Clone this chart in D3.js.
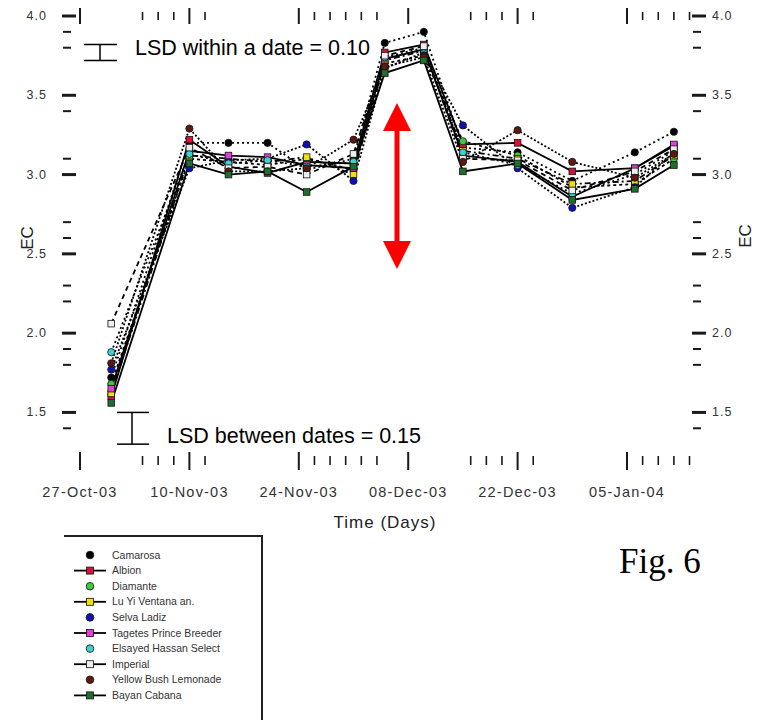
<!DOCTYPE html>
<html><head><meta charset="utf-8">
<script src="https://cdn.jsdelivr.net/npm/d3@7"></script>
<style>body{margin:0;background:#fff}svg{display:block}</style>
</head><body>
<svg id="c" width="765" height="720"></svg>
<script>
const sampleDates = ["2003-10-31","2003-11-10","2003-11-15","2003-11-20","2003-11-25","2003-12-01","2003-12-05","2003-12-10","2003-12-15","2003-12-22","2003-12-29","2004-01-06","2004-01-11"];
const seriesNames = ["Camarosa","Albion","Diamante","Lu Yi Ventana an.","Selva Ladiz","Tagetes Prince Breeder","Elsayed Hassan Select","Imperial","Yellow Bush Lemonade","Bayan Cabana"];
const seriesColors = ["#000000","#d8103a","#40c840","#f0e010","#1010b8","#e040d8","#40d0d0","#eeeeee","#5a1a12","#1f6e2e"];
const s1 = [1.72,3.20,3.20,3.20,3.03,3.10,3.83,3.90,3.17,3.14,2.96,3.14,3.27];
const s2 = [1.60,3.22,3.05,3.01,3.08,3.07,3.77,3.82,3.19,3.20,3.02,3.04,3.18];
const s3 = [1.68,3.10,3.08,3.06,3.10,3.03,3.70,3.75,3.21,3.12,2.92,2.94,3.10];
const s4 = [1.62,3.12,3.10,3.08,3.11,3.00,3.72,3.78,3.15,3.10,2.94,2.96,3.12];
const s5 = [1.77,3.04,3.09,3.10,3.19,2.96,3.67,3.77,3.31,3.04,2.79,2.92,3.14];
const s6 = [1.65,3.15,3.12,3.11,3.06,3.04,3.73,3.79,3.12,3.08,2.86,3.04,3.19];
const s7 = [1.88,3.13,3.07,3.09,3.05,3.08,3.74,3.80,3.14,3.06,2.88,3.00,3.15];
const s8 = [2.06,3.17,3.04,3.05,3.00,3.13,3.75,3.81,3.10,3.09,2.90,3.02,3.16];
const s9 = [1.81,3.29,3.02,3.02,3.04,3.22,3.68,3.74,3.08,3.28,3.08,2.98,3.13];
const s10 = [1.56,3.07,3.00,3.02,2.89,3.05,3.64,3.72,3.02,3.07,2.84,2.91,3.06];
const seriesValues = [s1,s2,s3,s4,s5,s6,s7,s8,s9,s10];
const majorDates = ["2003-10-27","2003-11-10","2003-11-24","2003-12-08","2003-12-22","2004-01-05"];
const majorLabels = ["27-Oct-03","10-Nov-03","24-Nov-03","08-Dec-03","22-Dec-03","05-Jan-04"];
const minorDates = ["2003-11-04","2003-11-06","2003-11-08","2003-11-12","2003-11-26","2003-11-28","2003-11-30","2003-12-02","2003-12-04","2003-12-16","2003-12-18","2003-12-20","2003-12-24","2004-01-07","2004-01-09","2004-01-11","2004-01-13"];
const yMajor = [4.0,3.5,3.0,2.5,2.0,1.5];
const yMajorLabels = ["4.0","3.5","3.0","2.5","2.0","1.5"];
const yMinor = [3.9,3.8,3.4,3.1,2.7,2.6,2.3,2.2,1.9,1.8,1.4];
const lsdWithin = 0.10, lsdBetween = 0.15;

const parse = d3.utcParse("%Y-%m-%d");
const svg = d3.select("#c");
const x = d3.scaleUtc().domain([parse("2003-10-27"), parse("2004-01-05")]).range([80, 627]);
const y = d3.scaleLinear().domain([1.2, 4.0]).range([460, 16]);
const ink = "#1a1a1a";
const sans = "Liberation Sans, Arial, sans-serif";

// top & bottom ticks
[["top",16],["bottom",461]].forEach(([side,yy])=>{
  const g = svg.append("g");
  g.selectAll("line.maj").data(majorDates).join("line")
    .attr("x1",d=>x(parse(d))).attr("x2",d=>x(parse(d)))
    .attr("y1",side==="top"?8:452).attr("y2",side==="top"?24:470)
    .attr("stroke",ink).attr("stroke-width",2);
  g.selectAll("line.min").data(minorDates).join("line")
    .attr("x1",d=>x(parse(d))).attr("x2",d=>x(parse(d)))
    .attr("y1",side==="top"?12:456).attr("y2",side==="top"?20:465)
    .attr("stroke",ink).attr("stroke-width",1.6);
});
svg.append("g").selectAll("text").data(majorDates).join("text")
  .attr("x",d=>x(parse(d))).attr("y",497).attr("text-anchor","middle")
  .attr("font-family",sans).attr("font-size",14.5).attr("letter-spacing",1.2).attr("fill","#333")
  .text((d,i)=>majorLabels[i]);

// left & right ticks
[["left",62,76,63,71],["right",692,706,693,701]].forEach(([side,a,b,c,dd])=>{
  const g = svg.append("g");
  g.selectAll("line.maj").data(yMajor).join("line")
    .attr("x1",a).attr("x2",b).attr("y1",v=>y(v)).attr("y2",v=>y(v))
    .attr("stroke",ink).attr("stroke-width",3);
  g.selectAll("line.min").data(yMinor).join("line")
    .attr("x1",c).attr("x2",dd).attr("y1",v=>y(v)).attr("y2",v=>y(v))
    .attr("stroke",ink).attr("stroke-width",2);
  g.selectAll("text").data(yMajor).join("text")
    .attr("x",side==="left"?47:712).attr("y",v=>y(v)+4)
    .attr("text-anchor",side==="left"?"end":"start")
    .attr("font-family",sans).attr("font-size",12.5).attr("letter-spacing",1).attr("fill","#333")
    .text((v,i)=>yMajorLabels[i]);
});

// axis titles
svg.append("text").attr("x",385).attr("y",528).attr("text-anchor","middle")
  .attr("font-family",sans).attr("font-size",17).attr("letter-spacing",1).attr("fill","#222").text("Time (Days)");
svg.append("text").attr("transform","translate(33,238) rotate(-90)").attr("text-anchor","middle")
  .attr("font-family",sans).attr("font-size",17).attr("fill","#222").text("EC");
svg.append("text").attr("transform","translate(751,236) rotate(-90)").attr("text-anchor","middle")
  .attr("font-family",sans).attr("font-size",17).attr("fill","#222").text("EC");

// series
const dashes = ["2,3",null,"3,3","6,3,2,3","2,2",null,"2,3","5,4","2,2",null];
const line = d3.line().x((d,i)=>x(parse(sampleDates[i]))).y(d=>y(d));
seriesValues.forEach((vals,k)=>{
  svg.append("path").datum(vals).attr("d",line).attr("fill","none")
    .attr("stroke","#000").attr("stroke-width",1.8)
    .attr("stroke-dasharray",dashes[k]);
});
seriesValues.forEach((vals,k)=>{
  const g = svg.append("g");
  if (k%2===0) {
    g.selectAll("circle").data(vals).join("circle")
      .attr("cx",(d,i)=>x(parse(sampleDates[i]))).attr("cy",d=>y(d)).attr("r",3.6)
      .attr("fill",seriesColors[k]).attr("stroke","#111").attr("stroke-width",0.8);
  } else {
    g.selectAll("rect").data(vals).join("rect")
      .attr("x",(d,i)=>x(parse(sampleDates[i]))-3.3).attr("y",d=>y(d)-3.3)
      .attr("width",6.6).attr("height",6.6)
      .attr("fill",seriesColors[k]).attr("stroke","#111").attr("stroke-width",0.8);
  }
});

// LSD annotations
const wTop = 3.82, wX = 100;
svg.append("line").attr("x1",wX).attr("x2",wX).attr("y1",y(wTop)).attr("y2",y(wTop-lsdWithin)).attr("stroke","#000").attr("stroke-width",1.5);
[wTop, wTop-lsdWithin].forEach(v=>svg.append("line").attr("x1",84).attr("x2",117).attr("y1",y(v)).attr("y2",y(v)).attr("stroke","#000").attr("stroke-width",1.5));
svg.append("text").attr("x",135).attr("y",55).attr("font-family",sans).attr("font-size",21.5).attr("fill","#000").text("LSD within a date = 0.10");
const bTop = 1.50, bX = 132;
svg.append("line").attr("x1",bX).attr("x2",bX).attr("y1",y(bTop)).attr("y2",y(bTop-lsdBetween-0.05)).attr("stroke","#000").attr("stroke-width",1.5);
[bTop, bTop-lsdBetween-0.05].forEach(v=>svg.append("line").attr("x1",117).attr("x2",149).attr("y1",y(v)).attr("y2",y(v)).attr("stroke","#000").attr("stroke-width",1.5));
svg.append("text").attr("x",167).attr("y",443).attr("font-family",sans).attr("font-size",21.5).attr("fill","#000").text("LSD between dates = 0.15");

// red double arrow
const ax = 397, aTop = 103, aBot = 269, hw = 14, hl = 28;
svg.append("line").attr("x1",ax).attr("x2",ax).attr("y1",aTop+hl-2).attr("y2",aBot-hl+2).attr("stroke","#ff0000").attr("stroke-width",5);
svg.append("path").attr("d",`M${ax},${aTop} L${ax+hw},${aTop+hl} L${ax-hw},${aTop+hl} Z`).attr("fill","#ff0000");
svg.append("path").attr("d",`M${ax},${aBot} L${ax+hw},${aBot-hl} L${ax-hw},${aBot-hl} Z`).attr("fill","#ff0000");

// Fig label
svg.append("text").attr("x",619).attr("y",573).attr("font-family","Liberation Serif, Times New Roman, serif").attr("font-size",35).attr("fill","#000").text("Fig. 6");

// legend
const lg = svg.append("g");
lg.append("line").attr("x1",64).attr("x2",263).attr("y1",536).attr("y2",536).attr("stroke","#222").attr("stroke-width",2);
lg.append("line").attr("x1",262).attr("x2",262).attr("y1",535).attr("y2",720).attr("stroke","#222").attr("stroke-width",2);
seriesNames.forEach((n,k)=>{
  const yy = 555 + k*15.6;
  if (k%2===1) lg.append("line").attr("x1",74).attr("x2",106).attr("y1",yy).attr("y2",yy).attr("stroke","#000").attr("stroke-width",1.8);
  if (k%2===0) lg.append("circle").attr("cx",90).attr("cy",yy).attr("r",3.8).attr("fill",seriesColors[k]).attr("stroke","#111").attr("stroke-width",0.8);
  else lg.append("rect").attr("x",86.5).attr("y",yy-3.5).attr("width",7).attr("height",7).attr("fill",seriesColors[k]).attr("stroke","#111").attr("stroke-width",0.8);
  lg.append("text").attr("x",112).attr("y",yy+3.5).attr("font-family",sans).attr("font-size",10.5).attr("fill","#333").text(n);
});
</script>
</body></html>
